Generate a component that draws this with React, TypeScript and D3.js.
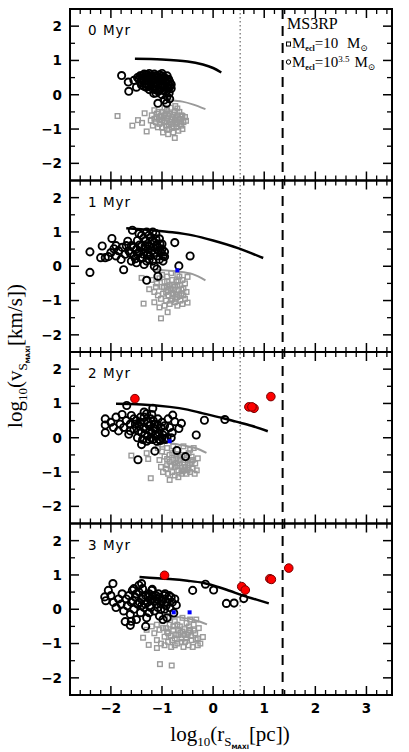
import React from "react";
import * as d3 from "d3";

// panel labels
const panelLabels = ["0 Myr", "1 Myr", "2 Myr", "3 Myr"];

// black circles (Mecl = 10^3.5 Msun), one array per snapshot
const circles0 = [[-1.79,0.56],[-1.66,0.37],[-1.65,0.1],[-1.5,0.22],[-1.31,0.22],[-1.16,0.04],[-1.08,-0.25],[-0.91,-0.25],[-0.9,-0.05],[-1.07,0.1],[-0.82,0.18],[-1.45,0.45],[-1.4,0.55],[-1.35,0.6],[-1.3,0.5],[-1.25,0.62],[-1.2,0.55],[-1.15,0.6],[-1.1,0.5],[-1.05,0.58],[-1.0,0.55],[-0.95,0.5],[-0.9,0.45],[-0.85,0.38],[-0.82,0.3],[-1.42,0.35],[-1.38,0.42],[-1.33,0.33],[-1.28,0.4],[-1.22,0.3],[-1.18,0.42],[-1.12,0.35],[-1.08,0.28],[-1.02,0.4],[-0.98,0.32],[-0.94,0.25],[-0.88,0.3],[-1.25,0.15],[-1.2,0.2],[-1.1,0.15],[-1.02,0.2],[-0.97,0.12],[-0.92,0.1],[-0.86,0.05],[-1.35,0.25],[-1.48,0.5],[-1.28,0.58],[-1.18,0.48],[-1.05,0.45],[-0.93,0.4],[-0.87,0.2],[-1.0,0.0],[-0.95,-0.15],[-1.12,0.05],[-1.15,0.25],[-1.4,0.28],[-1.0,0.62],[-0.9,0.55],[-1.55,0.42],[-0.85,-0.12],[-1.43,0.55],[-1.37,0.48],[-1.32,0.58],[-1.27,0.47],[-1.23,0.52],[-1.17,0.36],[-1.13,0.55],[-1.07,0.4],[-1.03,0.5],[-0.97,0.45],[-0.92,0.35],[-0.87,0.45],[-0.84,0.25],[-1.3,0.3],[-1.26,0.25],[-1.14,0.15],[-1.06,0.12],[-0.99,0.25],[-1.2,0.38],[-0.9,0.2]];
const circles1 = [[-2.41,0.42],[-2.41,-0.18],[-2.17,0.59],[-2.11,0.25],[-1.98,0.81],[-1.94,0.51],[-1.75,-0.1],[-1.67,0.73],[-1.58,1.05],[-1.3,-0.41],[-1.08,-0.29],[-1.1,-0.08],[-0.75,0.69],[-0.67,0.01],[-0.45,0.3],[-0.95,0.42],[-0.95,0.28],[-2.2,0.25],[-2.05,0.28],[-2.0,0.4],[-1.9,0.3],[-1.85,0.45],[-1.8,0.2],[-1.78,0.55],[-1.72,0.35],[-1.65,0.45],[-1.6,0.6],[-1.55,0.3],[-1.5,0.5],[-1.48,0.75],[-1.45,0.4],[-1.4,0.9],[-1.4,0.6],[-1.38,0.25],[-1.35,0.5],[-1.32,0.75],[-1.3,1.0],[-1.28,0.35],[-1.25,0.6],[-1.22,0.85],[-1.2,0.45],[-1.18,0.15],[-1.15,0.7],[-1.12,0.95],[-1.1,0.3],[-1.08,0.55],[-1.05,0.8],[-1.02,0.4],[-1.0,0.65],[-0.98,0.15],[-1.25,0.2],[-1.35,0.05],[-1.15,0.0],[-1.6,0.15],[-1.7,0.6],[-1.9,0.6],[-1.5,0.1],[-1.05,0.2],[-1.18,1.0],[-1.45,0.95],[-1.3,0.15],[-1.42,0.25],[-1.62,0.38],[-1.56,0.55],[-1.52,0.22],[-1.44,0.62],[-1.36,0.35],[-1.33,0.6],[-1.27,0.5],[-1.24,0.3],[-1.2,0.75],[-1.17,0.55],[-1.14,0.4],[-1.1,0.62],[-1.07,0.45],[-1.04,0.65],[-1.0,0.5],[-1.12,0.8],[-1.26,0.9],[-1.36,0.82],[-0.98,0.3],[-1.48,0.35]];
const circles2 = [[-1.69,0.94],[-1.18,0.86],[-0.79,0.66],[-0.75,0.47],[-0.17,0.51],[0.23,0.53],[-0.33,0.08],[-0.71,-0.37],[-0.54,-0.55],[-1.14,-0.39],[-1.47,-0.64],[-2.11,0.55],[-2.11,0.15],[-2.11,0.37],[-0.67,0.27],[-0.85,0.3],[-0.62,0.42],[-2.0,0.45],[-1.95,0.3],[-1.9,0.6],[-1.85,0.2],[-1.82,0.4],[-1.78,0.68],[-1.75,0.3],[-1.7,0.5],[-1.65,0.1],[-1.62,0.4],[-1.6,0.65],[-1.55,0.25],[-1.5,0.5],[-1.48,0.0],[-1.45,0.35],[-1.42,0.6],[-1.4,0.15],[-1.38,-0.05],[-1.35,0.45],[-1.32,0.25],[-1.3,0.7],[-1.28,0.05],[-1.25,0.35],[-1.22,0.55],[-1.2,0.15],[-1.18,-0.05],[-1.15,0.4],[-1.12,0.25],[-1.1,0.05],[-1.08,0.55],[-1.05,-0.05],[-1.02,0.3],[-1.0,0.0],[-0.95,0.15],[-0.9,0.0],[-1.3,-0.1],[-1.4,-0.2],[-1.55,0.55],[-1.35,0.75],[-1.2,0.68],[-0.88,0.55],[-1.62,0.2],[-0.95,0.35],[-0.8,0.15],[-0.82,0.0],[-1.52,0.4],[-1.46,0.2],[-1.43,0.45],[-1.36,0.3],[-1.33,0.1],[-1.27,0.45],[-1.24,0.2],[-1.21,0.0],[-1.16,0.28],[-1.13,0.1],[-1.09,0.38],[-1.06,0.15],[-1.03,-0.08],[-0.98,0.08],[-0.93,-0.05],[-1.25,-0.05],[-1.17,0.5],[-1.1,-0.1],[-1.35,0.6],[-1.0,0.45]];
const circles3 = [[-0.4,0.55],[-0.15,0.73],[0.01,0.56],[0.26,0.17],[0.41,0.18],[0.6,0.31],[-1.72,-0.36],[-1.62,-0.47],[-1.32,-0.5],[-0.77,-0.11],[-2.12,0.36],[-2.05,0.55],[-1.96,0.75],[-1.4,0.75],[-1.19,0.58],[-0.72,0.12],[-2.1,0.25],[-2.0,0.4],[-1.95,0.2],[-1.9,0.05],[-1.85,0.3],[-1.8,0.15],[-1.78,0.45],[-1.75,-0.05],[-1.7,0.3],[-1.68,0.1],[-1.65,0.4],[-1.62,-0.15],[-1.6,0.2],[-1.58,0.55],[-1.55,0.0],[-1.52,0.35],[-1.5,-0.3],[-1.48,0.15],[-1.45,0.5],[-1.42,-0.1],[-1.4,0.3],[-1.38,0.6],[-1.35,0.05],[-1.32,0.4],[-1.3,-0.25],[-1.28,0.2],[-1.25,0.45],[-1.22,0.05],[-1.2,0.3],[-1.15,-0.05],[-1.12,0.4],[-1.1,0.15],[-1.05,0.35],[-1.02,0.0],[-1.0,0.25],[-0.95,0.4],[-0.92,0.1],[-0.88,0.3],[-0.85,0.05],[-0.82,0.35],[-0.8,0.2],[-0.75,0.3],[-0.9,-0.25],[-1.05,-0.2],[-1.45,0.7],[-1.6,-0.35],[-0.98,-0.3],[-1.55,0.6],[-1.2,0.55],[-1.57,0.25],[-1.5,0.45],[-1.44,0.2],[-1.37,0.35],[-1.33,0.15],[-1.27,0.35],[-1.24,0.1],[-1.18,0.4],[-1.13,0.25],[-1.08,0.05],[-1.07,0.45],[-1.02,0.15],[-0.97,0.3],[-0.94,0.45],[-0.9,0.2],[-0.86,0.4],[-1.25,-0.1],[-1.4,0.1],[-1.1,0.3],[-0.95,0.0]];

// grey squares (Mecl = 10 Msun)
const squares0 = [[-1.87,-0.62],[-1.58,-0.9],[-1.47,-0.74],[-1.39,-0.82],[-1.3,-1.07],[-1.34,-0.54],[-0.75,-1.26],[-0.6,-1.0],[-0.53,-0.76],[-0.74,-0.33],[-1.2,-0.6],[-1.15,-0.7],[-1.1,-0.55],[-1.05,-0.65],[-1.0,-0.5],[-0.95,-0.6],[-0.9,-0.45],[-0.85,-0.55],[-0.8,-0.65],[-0.75,-0.5],[-0.7,-0.6],[-0.65,-0.7],[-0.6,-0.62],[-1.12,-0.8],[-1.05,-0.85],[-1.0,-0.75],[-0.95,-0.8],[-0.9,-0.7],[-0.85,-0.8],[-0.8,-0.85],[-0.75,-0.75],[-0.7,-0.8],[-0.65,-0.85],[-0.58,-0.8],[-1.08,-0.95],[-1.0,-0.95],[-0.92,-0.9],[-0.86,-1.0],[-0.8,-0.95],[-0.72,-0.95],[-0.68,-1.05],[-1.15,-0.45],[-0.98,-1.1],[-0.88,-1.15],[-0.78,-1.1],[-0.7,-0.4],[-0.66,-0.5],[-1.22,-0.75],[-1.18,-0.9],[-0.55,-0.65],[-0.62,-0.9],[-0.83,-0.38],[-0.95,-0.38],[-1.02,-0.62],[-0.88,-0.62],[-1.1,-0.65],[-1.03,-0.72],[-0.97,-0.68],[-0.93,-0.55],[-0.87,-0.88],[-0.82,-0.72],[-0.78,-0.58],[-0.73,-0.68],[-0.68,-0.72],[-0.63,-0.78],[-0.77,-0.92],[-0.9,-1.02],[-1.07,-0.5],[-0.73,-0.85],[-0.62,-0.6]];
const squares1 = [[-1.36,-1.09],[-1.02,-1.52],[-0.89,-1.34],[-1.25,-0.67],[-1.4,-0.34],[-0.5,-1.06],[-0.5,-0.31],[-1.2,-0.4],[-1.1,-0.5],[-1.05,-0.35],[-1.0,-0.6],[-0.95,-0.45],[-0.9,-0.3],[-0.88,-0.7],[-0.85,-0.55],[-0.8,-0.4],[-0.78,-0.8],[-0.75,-0.6],[-0.72,-0.45],[-0.7,-0.9],[-0.68,-0.7],[-0.65,-0.55],[-0.62,-0.8],[-0.6,-0.4],[-0.58,-0.65],[-0.55,-0.95],[-1.15,-0.75],[-1.08,-0.85],[-1.02,-0.95],[-0.98,-0.8],[-0.92,-1.0],[-0.85,-1.1],[-0.8,-0.95],[-0.75,-1.05],[-0.7,-1.15],[-0.64,-1.0],[-0.6,-1.1],[-1.15,-1.05],[-1.05,-1.2],[-0.95,-1.15],[-0.82,-0.2],[-0.7,-0.25],[-0.9,-0.6],[-0.78,-0.55],[-1.0,-0.25],[-0.55,-0.5],[-0.52,-0.75],[-1.12,-0.6],[-0.66,-0.3],[-0.96,-0.62],[-0.92,-0.75],[-0.87,-0.85],[-0.83,-0.65],[-0.8,-0.78],[-0.76,-0.7],[-0.73,-0.82],[-0.7,-0.55],[-0.66,-0.85],[-0.62,-0.68],[-0.58,-0.85],[-0.82,-1.0],[-0.9,-0.45],[-0.68,-0.42],[-0.74,-0.95]];
const squares2 = [[-1.6,-0.52],[-1.22,-1.18],[-0.85,-1.23],[-1.27,-0.62],[-1.3,-0.45],[-1.08,-0.3],[-1.0,-0.4],[-0.95,-0.55],[-0.9,-0.3],[-0.85,-0.7],[-0.8,-0.45],[-0.75,-0.85],[-0.72,-0.6],[-0.7,-0.35],[-0.65,-0.75],[-0.6,-0.5],[-0.58,-0.95],[-0.55,-0.65],[-0.5,-0.8],[-0.48,-0.45],[-0.45,-1.0],[-0.42,-0.7],[-0.4,-0.9],[-0.35,-0.75],[-0.32,-0.95],[-1.05,-0.65],[-1.02,-0.85],[-0.98,-1.0],[-0.92,-0.9],[-0.88,-1.05],[-0.8,-1.0],[-0.75,-1.1],[-0.68,-0.95],[-0.62,-1.05],[-0.52,-1.05],[-0.42,-0.55],[-0.38,-0.3],[-0.58,-0.25],[-0.78,-0.25],[-1.0,-0.2],[-0.3,-0.6],[-0.68,-1.15],[-0.9,-0.8],[-0.55,-0.85],[-0.85,-0.5],[-0.65,-0.55],[-0.36,-1.05],[-0.45,-0.35],[-0.9,-0.62],[-0.82,-0.82],[-0.78,-0.65],[-0.74,-0.75],[-0.7,-0.82],[-0.66,-0.65],[-0.62,-0.88],[-0.58,-0.72],[-0.52,-0.6],[-0.48,-0.88],[-0.45,-0.75],[-0.4,-0.65],[-0.72,-0.48],[-0.6,-0.98],[-0.5,-0.95]];
const squares3 = [[-1.04,-1.6],[-0.81,-1.64],[-1.37,-0.83],[-1.26,-1.04],[-1.1,-1.13],[-0.2,-0.81],[-1.3,-0.6],[-1.1,-0.45],[-1.05,-0.6],[-1.0,-0.35],[-0.95,-0.8],[-0.92,-0.55],[-0.88,-0.7],[-0.85,-0.45],[-0.8,-0.9],[-0.78,-0.6],[-0.75,-0.35],[-0.72,-0.75],[-0.7,-1.0],[-0.65,-0.5],[-0.62,-0.85],[-0.6,-0.65],[-0.55,-0.95],[-0.52,-0.4],[-0.5,-0.75],[-0.45,-0.6],[-0.42,-0.9],[-0.38,-0.45],[-0.35,-0.7],[-0.3,-0.85],[-0.28,-0.55],[-0.25,-1.0],[-1.15,-0.7],[-1.1,-0.9],[-1.02,-1.0],[-0.95,-1.05],[-0.88,-0.95],[-0.82,-1.1],[-0.75,-1.05],[-0.68,-0.6],[-0.58,-1.1],[-0.48,-1.05],[-0.4,-1.1],[-0.33,-0.3],[-0.45,-0.3],[-0.6,-0.25],[-0.98,-0.55],[-0.85,-0.25],[-1.2,-0.5],[-0.3,-1.05],[-0.7,-0.45],[-0.9,-0.65],[-0.83,-0.78],[-0.78,-0.5],[-0.75,-0.85],[-0.68,-0.75],[-0.64,-0.68],[-0.62,-0.95],[-0.56,-0.58],[-0.53,-0.85],[-0.48,-0.68],[-0.43,-0.78],[-0.38,-0.62],[-0.34,-0.88],[-0.56,-0.75],[-0.47,-0.5]];

// blue squares and red dots
const blue0: number[][] = [];
const blue1 = [[-0.7,-0.12]];
const blue2 = [[-0.85,-0.1]];
const blue3 = [[-0.77,-0.09],[-0.46,-0.09]];
const red0: number[][] = [];
const red1: number[][] = [];
const red2 = [[-1.53,1.14],[0.7,0.9],[0.8,0.86],[0.76,0.9],[1.13,1.2]];
const red3 = [[-0.95,0.99],[0.56,0.66],[0.63,0.56],[1.11,0.89],[1.14,0.87],[1.48,1.2]];

// model curves
const blackLine0 = [[-1.53,1.05],[-1.0,1.03],[-0.5,0.97],[-0.2,0.88],[0.0,0.78],[0.16,0.65]];
const blackLine1 = [[-1.7,1.11],[-1.2,1.05],[-0.8,0.99],[-0.4,0.9],[0.0,0.75],[0.5,0.52],[0.98,0.24]];
const blackLine2 = [[-1.9,0.99],[-1.4,0.97],[-0.85,0.9],[-0.5,0.82],[-0.2,0.71],[0.2,0.57],[0.45,0.47],[0.75,0.35],[1.07,0.19]];
const blackLine3 = [[-1.44,0.94],[-0.85,0.88],[-0.5,0.83],[-0.2,0.77],[0.1,0.65],[0.32,0.54],[0.6,0.39],[0.85,0.28],[1.09,0.17]];
const greyLine0 = [[-0.85,-0.15],[-0.6,-0.2],[-0.4,-0.28],[-0.15,-0.42]];
const greyLine1 = [[-1.1,-0.1],[-0.7,-0.15],[-0.4,-0.23],[-0.15,-0.41]];
const greyLine2 = [[-0.85,-0.15],[-0.6,-0.22],[-0.35,-0.3],[-0.13,-0.44]];
const greyLine3 = [[-0.85,-0.2],[-0.6,-0.25],[-0.35,-0.32],[-0.12,-0.44]];

const xTicks = [-2, -1, 0, 1, 2, 3];
const yTicks = [-2, -1, 0, 1, 2];
const dottedX = 0.53;
const dashedX = 1.36;

const circles = [circles0, circles1, circles2, circles3];
const squares = [squares0, squares1, squares2, squares3];
const blues = [blue0, blue1, blue2, blue3];
const reds = [red0, red1, red2, red3];
const blackLines = [blackLine0, blackLine1, blackLine2, blackLine3];
const greyLines = [greyLine0, greyLine1, greyLine2, greyLine3];

const left = 70, right = 392, top = 9, ph = 171.5;
const fmt = (v: number) => (v < 0 ? "\u2212" + Math.abs(v) : String(v));
const tickFont = "'DejaVu Sans', sans-serif";
const serif = "'Liberation Serif', 'DejaVu Serif', serif";

export default function App() {
  const x = d3.scaleLinear().domain([-2.8, 3.5]).range([left, right]);
  const minorX = d3.range(-26, 36, 2).map(v => v / 10).filter(v => !xTicks.includes(Math.round(v * 10) / 10));
  const minorY = [-1.5, -0.5, 0.5, 1.5];
  const bottom = top + 4 * ph;

  const panels = panelLabels.map((lab, i) => {
    const y0 = top + i * ph;
    const y = d3.scaleLinear().domain([-2.5, 2.5]).range([y0 + ph, y0]);
    const line = d3.line<number[]>().x(d => x(d[0])).y(d => y(d[1])).curve(d3.curveCatmullRom);
    return (
      <g key={lab}>
        {/* ticks on four sides */}
        {xTicks.map(t => (
          <g key={"xt" + t} stroke="#000" strokeWidth={1.5}>
            <line x1={x(t)} x2={x(t)} y1={y0 + ph} y2={y0 + ph - 9} />
            <line x1={x(t)} x2={x(t)} y1={y0} y2={y0 + 9} />
          </g>
        ))}
        {minorX.map(t => (
          <g key={"xm" + t} stroke="#000" strokeWidth={1.3}>
            <line x1={x(t)} x2={x(t)} y1={y0 + ph} y2={y0 + ph - 5} />
            <line x1={x(t)} x2={x(t)} y1={y0} y2={y0 + 5} />
          </g>
        ))}
        {yTicks.map(t => (
          <g key={"yt" + t} stroke="#000" strokeWidth={1.5}>
            <line x1={left} x2={left + 9} y1={y(t)} y2={y(t)} />
            <line x1={right} x2={right - 9} y1={y(t)} y2={y(t)} />
          </g>
        ))}
        {minorY.map(t => (
          <g key={"ym" + t} stroke="#000" strokeWidth={1.3}>
            <line x1={left} x2={left + 5} y1={y(t)} y2={y(t)} />
            <line x1={right} x2={right - 5} y1={y(t)} y2={y(t)} />
          </g>
        ))}
        {yTicks.map(t => (
          <text key={"yl" + t} x={left - 8} y={y(t)} dy="0.36em" textAnchor="end"
            fontFamily={tickFont} fontWeight="bold" fontSize={13.5}>{fmt(t)}</text>
        ))}
        <text x={88} y={y0 + 26} fontFamily={tickFont} fontSize={13.5} letterSpacing={1}>{lab}</text>

        {/* grey squares */}
        {squares[i].map((d, k) => (
          <rect key={"s" + k} x={x(d[0]) - 2.3} y={y(d[1]) - 2.3} width={4.6} height={4.6}
            fill="none" stroke="#9a9a9a" strokeWidth={1.4} />
        ))}
        <path d={line(greyLines[i]) || ""} fill="none" stroke="#9a9a9a" strokeWidth={2} />
        {circles[i].map((d, k) => (
          <circle key={"c" + k} cx={x(d[0])} cy={y(d[1])} r={3.6} fill="none" stroke="#000" strokeWidth={1.9} />
        ))}
        {blues[i].map((d, k) => (
          <rect key={"b" + k} x={x(d[0]) - 2} y={y(d[1]) - 2} width={4} height={4} fill="#00f" />
        ))}
        <path d={line(blackLines[i]) || ""} fill="none" stroke="#000" strokeWidth={2.5} />
        {reds[i].map((d, k) => (
          <circle key={"r" + k} cx={x(d[0])} cy={y(d[1])} r={4.3} fill="#f00" stroke="#700" strokeWidth={1} />
        ))}
        <rect x={left} y={y0} width={right - left} height={ph} fill="none" stroke="#000" strokeWidth={2} />
      </g>
    );
  });

  return (
    <svg width={409} height={752} style={{ position: "absolute", left: 0, top: 0, background: "#fff" }}>
      <line x1={x(dottedX)} x2={x(dottedX)} y1={top} y2={bottom} stroke="#888" strokeWidth={1.5} strokeDasharray="1.5,2.5" />
      <line x1={x(dashedX)} x2={x(dashedX)} y1={top} y2={bottom} stroke="#000" strokeWidth={2} strokeDasharray="10,7" />
      {panels}
      {xTicks.map(t => (
        <text key={"xl" + t} x={x(t)} y={bottom + 18} textAnchor="middle"
          fontFamily={tickFont} fontWeight="bold" fontSize={13.5}>{fmt(t)}</text>
      ))}

      {/* legend */}
      <g fontFamily={serif}>
        <text x={287} y={29} fontSize={16}>MS3RP</text>
        <rect x={286.5} y={42} width={4} height={4} fill="none" stroke="#000" strokeWidth={1} />
        <text x={292} y={48} fontSize={15}>M<tspan fontSize={8} fontWeight="bold" dy={2.5}>ecl</tspan><tspan dy={-2.5}>=10 </tspan><tspan dx={5}>M</tspan><tspan fontSize={9} dy={2.5}>⊙</tspan></text>
        <circle cx={288.5} cy={62} r={2.2} fill="none" stroke="#000" strokeWidth={1} />
        <text x={292} y={67} fontSize={15}>M<tspan fontSize={8} fontWeight="bold" dy={2.5}>ecl</tspan><tspan dy={-2.5}>=10</tspan><tspan fontSize={9} dy={-5}>3.5</tspan><tspan dy={5} dx={5}>M</tspan><tspan fontSize={9} dy={2.5}>⊙</tspan></text>
      </g>

      {/* axis titles */}
      <text x={230} y={741} textAnchor="middle" fontFamily={serif} fontSize={21}>
        log<tspan fontSize={13} dy={5}>10</tspan><tspan dy={-5}>(r</tspan><tspan fontSize={13} dy={5}>S</tspan><tspan fontSize={6} fontWeight="bold" fontFamily="'DejaVu Sans'" dy={3}>MAXI</tspan><tspan dy={-8}>[pc])</tspan>
      </text>
      <text transform="translate(22,356) rotate(-90)" textAnchor="middle" fontFamily={serif} fontSize={21}>
        log<tspan fontSize={13} dy={5}>10</tspan><tspan dy={-5}>(v</tspan><tspan fontSize={13} dy={5}>S</tspan><tspan fontSize={6} fontWeight="bold" fontFamily="'DejaVu Sans'" dy={3}>MAXI</tspan><tspan dy={-8}>[km/s])</tspan>
      </text>
    </svg>
  );
}
